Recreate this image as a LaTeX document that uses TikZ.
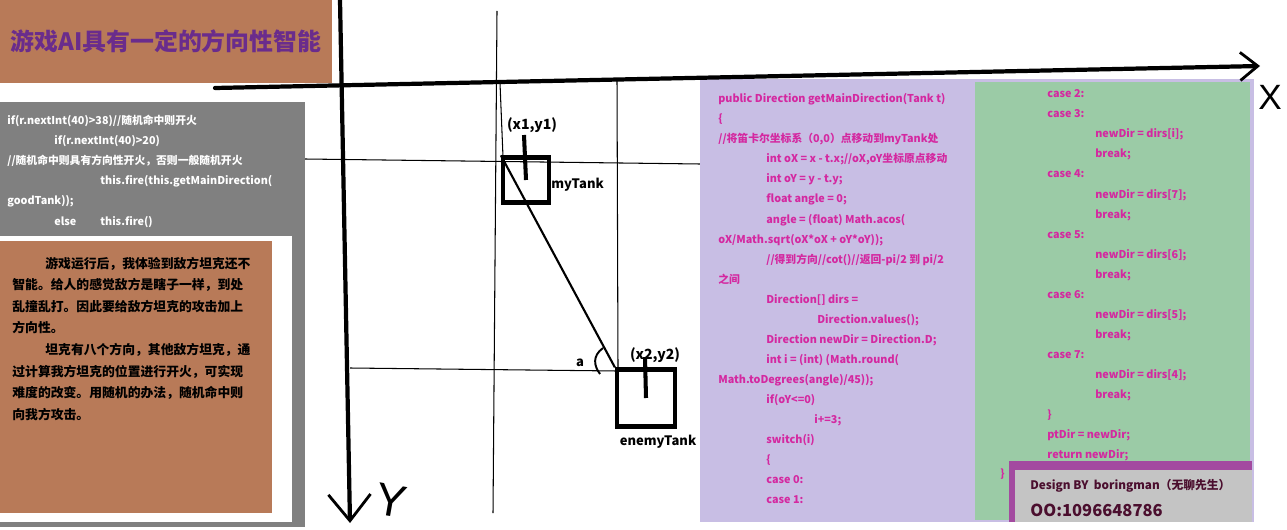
\documentclass[tikz,border=0pt]{standalone}
\usepackage{fontspec}
\setmainfont{Noto Sans CJK SC}
\newfontfamily\handfont{Liberation Sans}
\usetikzlibrary{arrows.meta,positioning}

\definecolor{panelbrown}{RGB}{184,122,88}
\definecolor{titlepurple}{RGB}{106,44,140}
\definecolor{panelgray}{RGB}{128,128,128}
\definecolor{lavender}{RGB}{200,190,228}
\definecolor{codegreen}{RGB}{155,203,166}
\definecolor{codepink}{RGB}{212,40,160}
\definecolor{signpurple}{RGB}{163,74,160}
\definecolor{signgray}{RGB}{196,196,196}
\definecolor{signtext}{RGB}{75,14,46}

\begin{document}
\begin{tikzpicture}[x=0.02cm, y=-0.02cm,
  axis/.style={line width=2.4pt, line cap=round},
  thin/.style={line width=0.6pt},
  tank/.style={draw, line width=2.4pt, inner sep=0pt},
  barrel/.style={line width=2.3pt},
  tanklabel/.style={font=\fontsize{7.4}{8}\selectfont\bfseries, inner sep=0pt},
  code/.style={anchor=base west, inner sep=0pt, font=\fontsize{6.15}{7}\selectfont\bfseries},
  story/.style={anchor=base west, inner sep=0pt, font=\fontsize{7.3}{8}\selectfont\bfseries}
]
\useasboundingbox (0,0) rectangle (1287,530);

% left panels
\fill[panelbrown] (0,0) rectangle (332,83);
\node[font=\fontsize{13.6}{15}\selectfont\bfseries, text=titlepurple, inner sep=0pt] (title) at (166,41) {游戏AI具有一定的方向性智能};

\fill[panelgray] (0,102) rectangle (305,527);
\fill[white] (0,236) rectangle (292,522);
\fill[panelbrown] (0,241) rectangle (272,513);

\foreach \dx/\ln [count=\i] in {7/{if(r.nextInt(40)>38)//随机命中则开火}, 54/{if(r.nextInt(40)>20)},
    7/{//随机命中则具有方向性开火，否则一般随机开火}, 100/{this.fire(this.getMainDirection(},
    7/{goodTank));}, 54/{else}}
  \node[code, text=white] (fire\i) at (\dx,105+20*\i) {\ln};
\node[code, text=white] (fire7) at (100,225) {this.fire()};

\foreach \dx/\ln [count=\i] in {45/{游戏运行后，我体验到敌方坦克还不}, 12/{智能。给人的感觉敌方是瞎子一样，到处},
    12/{乱撞乱打。因此要给敌方坦克的攻击加上}, 12/{方向性。}, 45/{坦克有八个方向，其他敌方坦克，通},
    12/{过计算我方坦克的位置进行开火，可实现}, 12/{难度的改变。用随机的办法，随机命中则}, 12/{向我方攻击。}}
  \node[story] (story\i) at (\dx,246.4+21.6*\i) {\ln};

% grid lines
\draw[thin] (497,11) -- (493,513);
\draw[thin] (500,83) -- (503,157);
\draw[thin] (617,80) -- (618,370);
\draw[thin] (305,159) -- (700,164);
\draw[thin] (350,368) -- (617,371);

% code panels
\fill[lavender] (700,79) rectangle (1254,522);
\fill[codegreen] (975,82) rectangle (1250,520);

\foreach \dx/\ln [count=\i] in {718/{public Direction getMainDirection(Tank t)}, 718/{\{},
    718/{//将笛卡尔坐标系（0,0）点移动到myTank处}, 766/{int oX = x - t.x;//oX,oY坐标原点移动},
    766/{int oY = y - t.y;}, 766/{float angle = 0;}, 766/{angle = (float) Math.acos(},
    718/{oX/Math.sqrt(oX*oX + oY*oY));}, 766/{//得到方向//cot()//返回-pi/2 到 pi/2}, 718/{之间},
    766/{Direction[] dirs =}, 817/{Direction.values();}, 766/{Direction newDir = Direction.D;},
    766/{int i = (int) (Math.round(}, 718/{Math.toDegrees(angle)/45));}, 766/{if(oY<=0)},
    814/{i+=3;}, 766/{switch(i)}, 766/{\{}, 766/{case 0:}, 766/{case 1:}}
  \node[code, text=codepink] (getdir\i) at (\dx,83+20*\i) {\ln};

\foreach \dx/\ln [count=\i] in {1047/{case 2:}, 1047/{case 3:}, 1095/{newDir = dirs[i];}, 1095/{break;},
    1047/{case 4:}, 1095/{newDir = dirs[7];}, 1095/{break;}, 1047/{case 5:}, 1095/{newDir = dirs[6];},
    1095/{break;}, 1047/{case 6:}, 1095/{newDir = dirs[5];}, 1095/{break;}, 1047/{case 7:},
    1095/{newDir = dirs[4];}, 1095/{break;}, 1047/{\}}, 1047/{ptDir = newDir;}, 1047/{return newDir;}}
  \node[code, text=codepink] (cases\i) at (\dx,78+20*\i) {\ln};
\node[code, text=codepink] (close) at (1000,477) {\}};

% signature
\fill[signpurple] (1009,461) rectangle (1252,522);
\fill[signgray] (1015,470) rectangle (1252,522);
\node[anchor=base west, inner sep=0pt, text=signtext, font=\fontsize{6.7}{8}\selectfont\bfseries] (design) at (1030,489) {Design BY\ \ boringman（无聊先生）};
\node[anchor=base west, inner sep=0pt, text=signtext, font=\fontsize{9.4}{11}\selectfont\bfseries] (qq) at (1030,516) {OO:1096648786};

% axes
\coordinate (xstart) at (215,88);
\coordinate (xend) at (1260,66);
\coordinate (ystart) at (340,0);
\coordinate (yend) at (350,523);
\draw[axis, -{Straight Barb[length=10pt, width=16pt, line width=1.6pt]}] (xstart) -- (xend);
\draw[axis, -{Straight Barb[length=15pt, width=24pt, line width=1.6pt]}] (ystart) -- (yend);
\node[font=\handfont\fontsize{20}{20}\selectfont, inner sep=0pt] (xlabel) at (1270,97) {X};
\node[font=\handfont\fontsize{26}{26}\selectfont, inner sep=0pt, rotate=-10] (ylabel) at (391,501) {Y};

% tanks
\node[tank, minimum width=46*0.02cm, minimum height=45*0.02cm] (myTank) at (526,180) {};
\node[tank, minimum width=58*0.02cm, minimum height=57*0.02cm] (enemyTank) at (646,398) {};
\coordinate (mygun) at (524,135);
\coordinate (enemygun) at (645,357);
\draw[barrel] (mygun) -- (myTank.center);
\draw[barrel] (enemygun) -- (enemyTank.center);
\draw[line width=1.2pt] (myTank.north west) -- (enemyTank.north west);
\draw[line width=1.1pt] (603,348) .. controls (592,356) and (594,366) .. (600,374);

\node[tanklabel, font=\fontsize{8}{9}\selectfont\bfseries] (p1) at (532,125) {(x1,y1)};
\node[tanklabel, anchor=west] (mylabel) at (551,185) {myTank};
\node[tanklabel, font=\fontsize{8}{9}\selectfont\bfseries] (p2) at (655,355) {(x2,y2)};
\node[tanklabel] (enemylabel) at (658,442) {enemyTank};
\node[tanklabel] (angle) at (580,363) {a};
\end{tikzpicture}
\end{document}
